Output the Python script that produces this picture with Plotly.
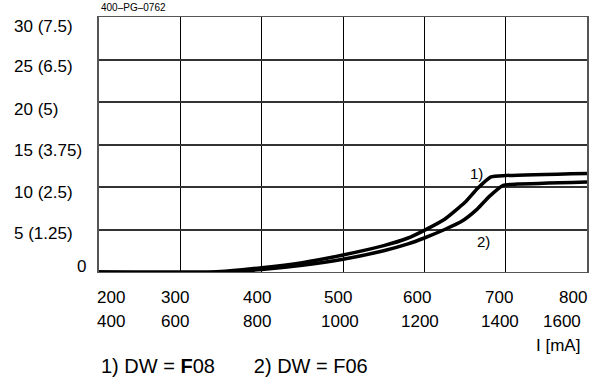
import plotly.graph_objects as go

# Current in mA (upper scale) and the paired lower-scale values
current_ma = [200, 300, 400, 500, 600, 700, 800]
current_ma_alt = [400, 600, 800, 1000, 1200, 1400, 1600]

# Y scale: primary value with its bracketed equivalent
y_ticks = [0, 5, 10, 15, 20, 25, 30]
y_tick_labels = ["0", "5 (1.25)", "10 (2.5)", "15 (3.75)", "20 (5)", "25 (6.5)", "30 (7.5)"]

# Curve 1) DW = F08
x_f08 = [200, 340, 400, 450, 500, 550, 580, 600, 625, 650, 665, 682, 700, 800]
y_f08 = [0, 0, 0.5, 1.1, 2.0, 3.1, 4.0, 4.9, 6.2, 8.2, 9.8, 11.2, 11.35, 11.6]

# Curve 2) DW = F06
x_f06 = [200, 350, 400, 450, 500, 550, 580, 600, 625, 645, 665, 680, 697, 715, 800]
y_f06 = [0, 0, 0.3, 0.8, 1.5, 2.5, 3.3, 4.0, 5.0, 5.9, 7.4, 8.9, 10.2, 10.35, 10.6]

FONT = "Liberation Sans, Arial, sans-serif"

fig = go.Figure()
for xs, ys in ((x_f08, y_f08), (x_f06, y_f06)):
    fig.add_trace(go.Scatter(x=xs, y=ys, mode="lines",
                             line=dict(color="black", width=3.5, shape="spline", smoothing=0.5),
                             showlegend=False, hoverinfo="skip", cliponaxis=False))

annotations = []
# Y labels (left-aligned column)
y_shift = {0: 6, 5: -4, 10: -5.5, 15: -6, 20: -7, 25: -7, 30: -9.5}
for v, lab in zip(y_ticks, y_tick_labels):
    annotations.append(dict(
        x=(-0.049 if v == 0 else -0.178), xref="paper", xanchor="left",
        y=v, yref="y", yanchor="middle", yshift=y_shift[v],
        text=lab, showarrow=False, font=dict(family=FONT, size=17, color="black")))

# X labels, two rows
x_shift = {200: 12, 300: -5, 400: -5, 500: -5, 600: -7, 700: -7, 800: -14}
x_shift2 = {200: 12, 300: -5, 400: -5, 500: -3, 600: -4, 700: -6, 800: -25}
for a, b in zip(current_ma, current_ma_alt):
    annotations.append(dict(x=a, xref="x", xanchor="center", xshift=x_shift[a],
                            y=-0.1, yref="paper", yanchor="middle",
                            text=str(a), showarrow=False,
                            font=dict(family=FONT, size=17, color="black")))
    annotations.append(dict(x=a, xref="x", xanchor="center", xshift=x_shift2[a],
                            y=-0.195, yref="paper", yanchor="middle",
                            text=str(b), showarrow=False,
                            font=dict(family=FONT, size=17, color="black")))

annotations.append(dict(x=0.99, xref="paper", xanchor="right", y=-0.29, yref="paper",
                        yanchor="middle", text="I [mA]", showarrow=False,
                        font=dict(family=FONT, size=17, color="black")))
annotations.append(dict(x=0.0, xref="paper", xanchor="left", y=-0.37, yref="paper",
                        yanchor="middle",
                        text="1) DW = <b>F</b>08&nbsp;&nbsp;&nbsp;&nbsp;&nbsp;&nbsp;&nbsp;2) DW = F06",
                        showarrow=False, font=dict(family=FONT, size=20, color="black")))
annotations.append(dict(x=0.0, xref="paper", xanchor="left", y=1.0, yref="paper",
                        yanchor="bottom", yshift=2, text="400\u2013PG\u20130762", showarrow=False,
                        font=dict(family=FONT, size=10, color="black")))
# Curve labels
annotations.append(dict(x=675, xref="x", y=11.6, yref="y", xanchor="right", yanchor="middle",
                        text="1)", showarrow=False,
                        font=dict(family=FONT, size=15, color="black")))
annotations.append(dict(x=683, xref="x", y=4.8, yref="y", xanchor="right", yanchor="top",
                        text="2)", showarrow=False,
                        font=dict(family=FONT, size=15, color="black")))

fig.update_layout(
    width=596, height=378,
    margin=dict(l=99, r=7, t=17, b=106),
    paper_bgcolor="white", plot_bgcolor="white",
    annotations=annotations,
    xaxis=dict(range=[200, 800], tickvals=current_ma, showticklabels=False,
               showgrid=True, gridcolor="black", gridwidth=1, zeroline=False,
               showline=True, linecolor="#555", linewidth=1, mirror=True, ticks=""),
    yaxis=dict(range=[0, 30], tickvals=y_ticks, showticklabels=False,
               showgrid=True, gridcolor="#333", gridwidth=1.5, zeroline=False,
               showline=True, linecolor="#555", linewidth=2, mirror=True, ticks=""),
)

fig.write_html("out.html")
